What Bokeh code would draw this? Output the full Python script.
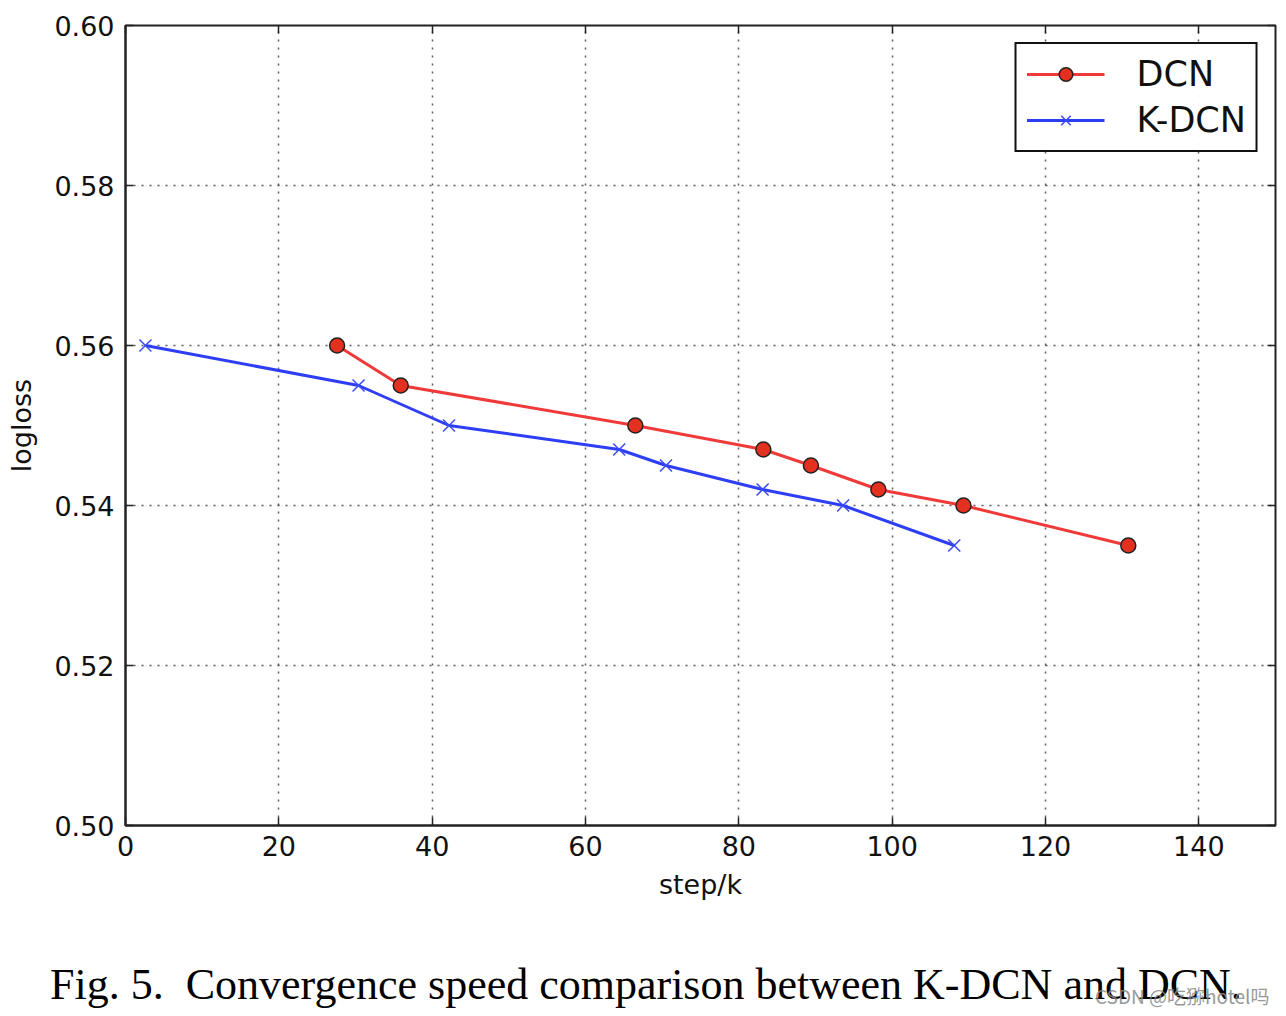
from bokeh.plotting import figure
from bokeh.models import Range1d, Legend, LegendItem, FixedTicker, LinearAxis, CustomJSTickFormatter, Div
from bokeh.layouts import column
from bokeh.embed import file_html
from bokeh.resources import INLINE

dcn_steps = [27.6, 35.9, 66.5, 83.2, 89.4, 98.2, 109.3, 130.8]
dcn_logloss = [0.560, 0.555, 0.550, 0.547, 0.545, 0.542, 0.540, 0.535]
kdcn_steps = [2.6, 30.4, 42.2, 64.4, 70.5, 83.1, 93.6, 108.1]
kdcn_logloss = [0.560, 0.555, 0.550, 0.547, 0.545, 0.542, 0.540, 0.535]
x_ticks = [0, 20, 40, 60, 80, 100, 120, 140]
y_ticks = [0.50, 0.52, 0.54, 0.56, 0.58, 0.60]
caption = "Fig. 5.&nbsp; Convergence speed comparison between K-DCN and DCN."
watermark = "CSDN @吃猕hotel吗"

p = figure(width=1286, height=940, output_backend="svg", toolbar_location=None,
           x_range=Range1d(0, 150), y_range=Range1d(0.50, 0.60),
           min_border_left=125, min_border_right=11, min_border_top=25, min_border_bottom=115)
p.background_fill_color = "white"
p.border_fill_color = "white"
p.outline_line_color = "#222222"
p.outline_line_width = 2

FONT = "DejaVu Sans"
for ax in (p.xaxis[0], p.yaxis[0]):
    ax.axis_line_color = "#222222"
    ax.axis_line_width = 2
    ax.major_tick_in = 8
    ax.major_tick_out = 0
    ax.minor_tick_in = 0
    ax.minor_tick_out = 0
    ax.major_tick_line_color = "#222222"
    ax.major_tick_line_width = 1.5
    ax.major_label_text_font = FONT
    ax.major_label_text_font_size = "27px"
    ax.major_label_text_color = "#111111"
    ax.axis_label_text_font = FONT
    ax.axis_label_text_font_size = "27px"
    ax.axis_label_text_font_style = "normal"
    ax.axis_label_text_color = "#111111"

p.xaxis.ticker = FixedTicker(ticks=x_ticks)
p.yaxis.ticker = FixedTicker(ticks=y_ticks)
p.yaxis.formatter = CustomJSTickFormatter(code="return tick.toFixed(2);")
p.xaxis.axis_label = "step/k"
p.yaxis.axis_label = "logloss"
p.xaxis.major_label_standoff = 10
p.yaxis.major_label_standoff = 11
p.xaxis.axis_label_standoff = 10
p.yaxis.axis_label_standoff = 14

# mirrored ticks on top and right (matplotlib classic style)
top_ax = LinearAxis(ticker=FixedTicker(ticks=x_ticks), formatter=CustomJSTickFormatter(code="return '';"),
                    major_tick_in=8, major_tick_out=0, minor_tick_in=0, minor_tick_out=0,
                    axis_line_color=None, major_tick_line_color="#222222", major_tick_line_width=1.5,
                    major_label_standoff=0)
right_ax = LinearAxis(ticker=FixedTicker(ticks=y_ticks), formatter=CustomJSTickFormatter(code="return '';"),
                      major_tick_in=8, major_tick_out=0, minor_tick_in=0, minor_tick_out=0,
                      axis_line_color=None, major_tick_line_color="#222222", major_tick_line_width=1.5,
                      major_label_standoff=0)
p.add_layout(top_ax, "above")
p.add_layout(right_ax, "right")

p.xgrid.ticker = FixedTicker(ticks=x_ticks)
p.ygrid.ticker = FixedTicker(ticks=y_ticks)
for g in (p.xgrid[0], p.ygrid[0]):
    g.grid_line_color = "#333333"
    g.grid_line_alpha = 0.8
    g.grid_line_dash = "2 6"
    g.grid_line_width = 1.5

dcn_line = p.line(dcn_steps, dcn_logloss, line_color="#f03a3a", line_width=3)
dcn_pts = p.scatter(dcn_steps, dcn_logloss, marker="circle", size=15,
                    fill_color="#e3301f", line_color="#222222", line_width=1.5)
k_line = p.line(kdcn_steps, kdcn_logloss, line_color="#2e3ef5", line_width=3)
k_pts = p.scatter(kdcn_steps, kdcn_logloss, marker="x", size=17,
                  line_color="#3a4cf7", line_width=1.5)

legend = Legend(items=[LegendItem(label="DCN", renderers=[dcn_line, dcn_pts]),
                       LegendItem(label="K-DCN", renderers=[k_line, k_pts])],
                location="top_right")
legend.label_text_font = FONT
legend.label_text_font_size = "35px"
legend.label_text_color = "#111111"
legend.border_line_color = "#111111"
legend.border_line_alpha = 1.0
legend.border_line_width = 2
legend.glyph_width = 78
legend.glyph_height = 34
legend.label_standoff = 32
legend.label_height = 34
legend.padding = 10
legend.spacing = 6
legend.margin = 17
p.add_layout(legend)

cap_html = (
    '<div style="position:relative;width:1286px;height:76px;">'
    '<span style="position:absolute;left:50px;top:23px;line-height:1;white-space:nowrap;'
    'font-family:\'Liberation Serif\';font-size:44px;color:#000;">' + caption + '</span>'
    '<span style="position:absolute;left:1095px;top:46px;line-height:1;white-space:nowrap;'
    'font-family:\'Noto Sans CJK SC\';font-size:19px;color:#888;opacity:0.85;">' + watermark + '</span>'
    '</div>'
)
cap_div = Div(text=cap_html, width=1286, height=76, margin=(0, 0, 0, 0))

layout = column(p, cap_div, spacing=0)
open("out.html", "w").write(file_html(layout, INLINE))
